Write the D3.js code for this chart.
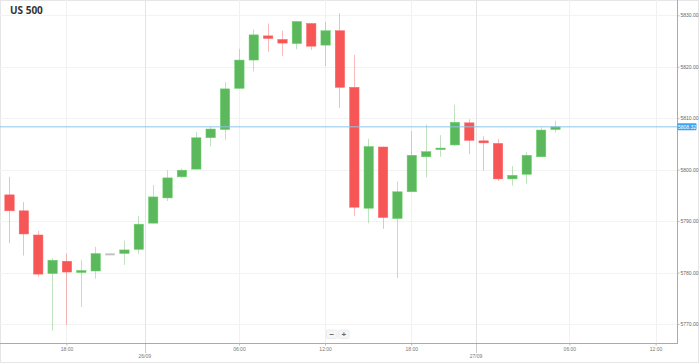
<!DOCTYPE html>
<html>
<head>
<meta charset="utf-8">
<script src="https://cdn.jsdelivr.net/npm/d3@7"></script>
<style>
  body { margin: 0; background: #fff; font-family: "Liberation Sans", Arial, sans-serif; }
</style>
</head>
<body>
<div id="chart"></div>
<script>
// hourly candles, US 500
var opens  = [5795.1,5792.0,5787.3,5779.8,5782.2,5780.0,5780.3,5783.7,5783.7,5784.5,5789.6,5794.5,5798.6,
              5800.1,5806.2,5807.8,5815.8,5821.3,5826.0,5825.3,5824.5,5828.4,5824.2,5827.0,5816.0,
              5792.5,5804.4,5790.5,5795.7,5802.5,5804.0,5804.8,5809.1,5805.6,5805.1,5798.2,5799.1,5802.5,5807.8];
var highs  = [5798.6,5793.7,5788.1,5782.8,5783.7,5782.4,5785.0,5783.8,5786.2,5791.0,5797.0,5799.9,5800.2,
              5807.3,5808.3,5817.0,5823.5,5827.3,5828.4,5827.0,5828.8,5828.5,5828.7,5830.4,5822.3,
              5806.0,5804.5,5797.7,5807.5,5808.8,5806.7,5812.6,5809.8,5806.5,5806.0,5800.7,5803.4,5808.2,5809.5];
var lows   = [5785.7,5783.3,5779.2,5768.7,5769.8,5773.3,5778.8,5783.6,5781.5,5783.6,5789.5,5793.9,5798.4,
              5800.0,5804.5,5805.8,5815.7,5819.1,5822.9,5822.1,5823.4,5823.3,5820.1,5812.0,5791.0,
              5789.6,5788.5,5778.9,5795.6,5798.5,5802.5,5804.6,5803.0,5799.8,5797.8,5796.9,5797.3,5802.5,5807.2];
var closes = [5792.0,5787.5,5779.7,5782.4,5780.1,5780.4,5783.7,5783.7,5784.4,5789.4,5794.7,5798.4,5799.9,
              5806.2,5807.9,5815.7,5821.3,5826.2,5825.5,5824.6,5828.8,5824.0,5827.0,5816.0,5792.7,
              5804.5,5790.7,5795.7,5802.8,5803.5,5804.2,5809.2,5805.7,5805.2,5798.2,5798.9,5802.8,5807.7,5808.32];

var lastPrice = 5808.32;
var yTicks = [5770, 5780, 5790, 5800, 5810, 5820, 5830];
// tick positions in candle index units
var timeTickPos    = [4, 16, 22, 28, 39, 45];
var timeTickLabels = ['18:00', '06:00', '12:00', '18:00', '06:00', '12:00'];
var dateTickPos    = [9.45, 32.5];
var dateTickLabels = ['26/09', '27/09'];

var width = 699, height = 363;
var plotRight = 677, plotBottom = 343;

var candles = opens.map(function(o, i) {
  return {i: i, o: o, h: highs[i], l: lows[i], c: closes[i]};
});

var x = d3.scaleLinear().domain([0, 38]).range([9, 555]);
var y = d3.scaleLinear().domain([5770, 5830]).range([324, 15.3]);
var bodyW = 9.4;

var svg = d3.select('#chart')
  .append('svg')
  .attr('width', width)
  .attr('height', height)
  .style('display', 'block');

// frame
svg.append('rect')
  .attr('x', 0.5).attr('y', 0.5)
  .attr('width', width - 1).attr('height', height - 1)
  .attr('fill', 'none').attr('stroke', '#e6e6e6');

// grid
var grid = svg.append('g');
grid.selectAll('.hg')
  .data(yTicks)
  .enter().append('line')
  .attr('x1', 0).attr('x2', plotRight)
  .attr('y1', function(d) { return Math.round(y(d)) + 0.5; })
  .attr('y2', function(d) { return Math.round(y(d)) + 0.5; })
  .attr('stroke', '#f3f3f3');

grid.selectAll('.vg')
  .data(timeTickPos)
  .enter().append('line')
  .attr('x1', function(d) { return Math.round(x(d)) + 0.5; })
  .attr('x2', function(d) { return Math.round(x(d)) + 0.5; })
  .attr('y1', 0).attr('y2', plotBottom)
  .attr('stroke', '#f1f1f1');

grid.selectAll('.dg')
  .data(dateTickPos)
  .enter().append('line')
  .attr('x1', function(d) { return Math.round(x(d)) + 0.5; })
  .attr('x2', function(d) { return Math.round(x(d)) + 0.5; })
  .attr('y1', 0).attr('y2', plotBottom)
  .attr('stroke', '#e4e4e4');

// candles
var green = '#5cb85c', red = '#f75656', flat = '#bbbbbb';
function col(d) { return d.c > d.o ? green : (d.c < d.o ? red : flat); }

var cg = svg.append('g');
cg.selectAll('.wick')
  .data(candles)
  .enter().append('line')
  .attr('x1', function(d) { return Math.round(x(d.i)) + 0.5; })
  .attr('x2', function(d) { return Math.round(x(d.i)) + 0.5; })
  .attr('y1', function(d) { return y(d.h); })
  .attr('y2', function(d) { return y(d.l); })
  .attr('stroke', col)
  .attr('stroke-opacity', 0.4)
  .attr('stroke-width', 1);

cg.selectAll('.body')
  .data(candles)
  .enter().append('rect')
  .attr('x', function(d) { return x(d.i) - bodyW / 2 + 0.5; })
  .attr('width', bodyW)
  .attr('y', function(d) { return y(Math.max(d.o, d.c)); })
  .attr('height', function(d) { return Math.max(1.6, Math.abs(y(d.o) - y(d.c))); })
  .attr('fill', col)
  .attr('stroke', function(d) { return d3.color(col(d)).brighter(0.4); })
  .attr('stroke-width', 0.5);

// current price line
svg.append('line')
  .attr('x1', 0).attr('x2', plotRight)
  .attr('y1', y(lastPrice)).attr('y2', y(lastPrice))
  .attr('stroke', '#8cc4ea').attr('stroke-width', 1);

// right axis
var yAxis = svg.append('g')
  .attr('transform', 'translate(' + (plotRight + 0.5) + ',0)')
  .call(d3.axisRight(y).tickValues(yTicks).tickFormat(d3.format('.2f')).tickSize(2).tickPadding(1));
yAxis.select('.domain').attr('stroke', '#aaa').attr('d', 'M0,0V' + plotBottom);
yAxis.selectAll('.tick line').attr('stroke', '#bbb');
yAxis.selectAll('text').attr('fill', '#666').style('font-size', '5px').style('font-family', '"Liberation Sans", Arial, sans-serif');

// price label
var pl = svg.append('g').attr('transform', 'translate(' + (plotRight + 0.5) + ',' + y(lastPrice) + ')');
pl.append('rect')
  .attr('x', 0).attr('y', -3.5).attr('width', 19).attr('height', 7)
  .attr('rx', 1).attr('fill', '#3ba4ef');
pl.append('text')
  .attr('x', 9.5).attr('y', 1.8)
  .attr('text-anchor', 'middle')
  .attr('fill', '#fff')
  .style('font-size', '5px')
  .text(d3.format('.2f')(lastPrice));

// bottom axis
var xg = svg.append('g').attr('transform', 'translate(0,' + (plotBottom + 0.5) + ')');
xg.append('line').attr('x1', 0).attr('x2', plotRight + 1).attr('stroke', '#aaa');
xg.call(d3.axisBottom(x).tickValues(timeTickPos).tickFormat(function(d, i) { return timeTickLabels[i]; })
  .tickSize(2).tickPadding(2));
xg.select('.domain').remove();
xg.selectAll('.tick line').attr('stroke', '#bbb');
xg.selectAll('text').attr('fill', '#777').style('font-size', '5px').style('font-family', '"Liberation Sans", Arial, sans-serif');

var dg = svg.append('g').attr('transform', 'translate(0,' + (plotBottom + 0.5) + ')');
dg.selectAll('.dtick')
  .data(dateTickPos)
  .enter().append('line')
  .attr('x1', function(d) { return Math.round(x(d)) + 0.5; })
  .attr('x2', function(d) { return Math.round(x(d)) + 0.5; })
  .attr('y1', 0).attr('y2', 9)
  .attr('stroke', '#999')
  .attr('stroke-dasharray', '1,1');
dg.selectAll('.dlab')
  .data(dateTickPos)
  .enter().append('text')
  .attr('x', function(d) { return x(d); })
  .attr('y', 14.5)
  .attr('text-anchor', 'middle')
  .attr('fill', '#777')
  .style('font-size', '5px')
  .text(function(d, i) { return dateTickLabels[i]; });

// zoom buttons
var zb = svg.append('g').attr('transform', 'translate(326,329.5)');
['\u2212', '+'].forEach(function(s, i) {
  zb.append('rect')
    .attr('x', i * 12 + 0.5).attr('y', 0.5).attr('width', 10.5).attr('height', 8.5)
    .attr('rx', 1.5).attr('fill', '#f6f6f6').attr('stroke', '#ececec');
  zb.append('text')
    .attr('x', i * 12 + 5.75).attr('y', 7.2)
    .attr('text-anchor', 'middle')
    .attr('fill', '#666')
    .style('font-size', '8px')
    .style('font-weight', 'bold')
    .text(s);
});

// title
svg.append('text')
  .attr('x', 10).attr('y', 14)
  .attr('fill', '#333')
  .style('font-size', '10px')
  .style('font-weight', 'bold')
  .style('font-family', '"Open Sans", "Liberation Sans", Arial, sans-serif')
  .text('US 500');
</script>
</body>
</html>
